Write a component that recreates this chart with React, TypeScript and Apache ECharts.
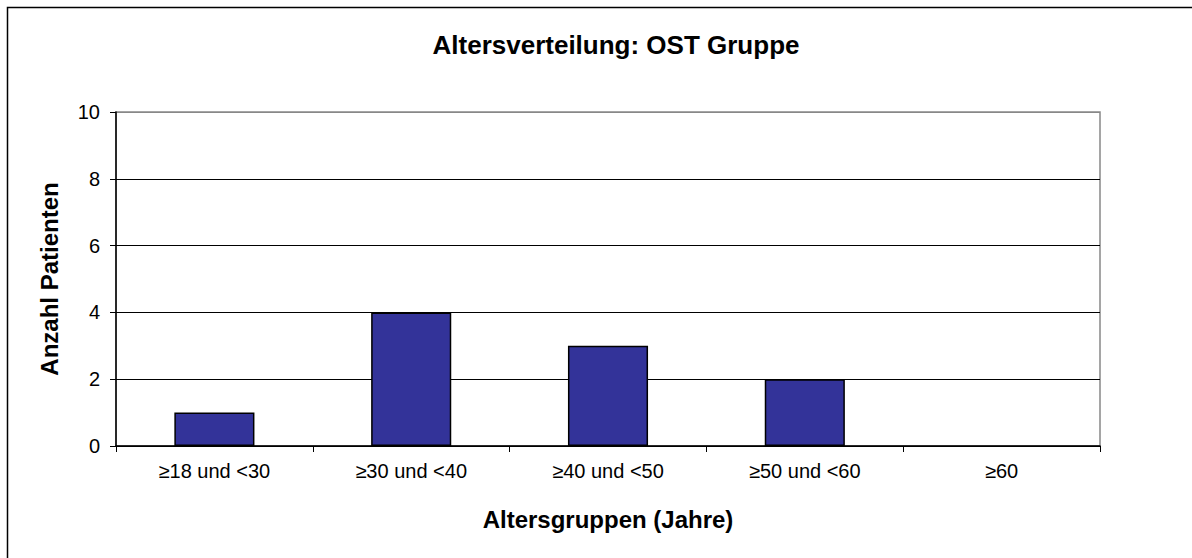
import React, { useEffect, useRef } from "react";
import * as echarts from "echarts";

const titleText = "Altersverteilung: OST Gruppe";
const categories = ["≥18 und <30", "≥30 und <40", "≥40 und <50", "≥50 und <60", "≥60"];
const patients = [1, 4, 3, 2, 0];
const yAxisName = "Anzahl Patienten";
const xAxisName = "Altersgruppen (Jahre)";

export default function App() {
  const ref = useRef<HTMLDivElement>(null);
  useEffect(() => {
    if (!ref.current) return;
    const chart = echarts.init(ref.current, undefined, { renderer: "svg" });
    const font = "Arial, 'Liberation Sans', Helvetica, sans-serif";
    chart.setOption({
      animation: false,
      backgroundColor: "#fff",
      textStyle: { fontFamily: font },
      title: {
        text: titleText,
        left: 611,
        top: 27,
        textAlign: "center",
        textStyle: { fontSize: 26, fontWeight: "bold", color: "#000", fontFamily: font },
      },
      graphic: [
        {
          type: "rect",
          shape: { x: 7.5, y: 7.5, width: 1400, height: 800 },
          style: { fill: "none", stroke: "#000", lineWidth: 1.5 },
          silent: true,
          z: 100,
        },
      ],
      grid: {
        left: 116,
        top: 112,
        right: 92,
        bottom: 112,
        show: true,
        borderColor: "#888",
        borderWidth: 1.5,
        backgroundColor: "transparent",
      },
      xAxis: {
        type: "category",
        data: categories,
        boundaryGap: true,
        name: xAxisName,
        nameLocation: "middle",
        nameGap: 61,
        nameTextStyle: { fontSize: 24, fontWeight: "bold", color: "#000", fontFamily: font },
        axisLine: { show: true, lineStyle: { color: "#000", width: 1.5 } },
        axisTick: { show: true, interval: 0, length: 6, lineStyle: { color: "#000", width: 1 } },
        axisLabel: { interval: 0, margin: 15, fontSize: 20, color: "#000", fontFamily: font },
        splitLine: { show: false },
      },
      yAxis: {
        type: "value",
        min: 0,
        max: 10,
        interval: 2,
        name: yAxisName,
        nameLocation: "middle",
        nameGap: 55,
        nameRotate: 90,
        nameTextStyle: { fontSize: 24, fontWeight: "bold", color: "#000", fontFamily: font },
        axisLine: { show: true, lineStyle: { color: "#000", width: 1.5 } },
        axisTick: { show: true, length: 6, lineStyle: { color: "#000", width: 1 } },
        axisLabel: { margin: 16, fontSize: 20, color: "#000", fontFamily: font },
        splitLine: {
          show: true,
          lineStyle: { color: ["#000", "#000", "#000", "#000", "#000", "#888"], width: 1.2 },
        },
      },
      series: [
        {
          type: "bar",
          data: patients.map((v) => (v === 0 ? { value: v, itemStyle: { borderWidth: 0 } } : v)),
          barWidth: "40.7%",
          itemStyle: { color: "#333399", borderColor: "#000", borderWidth: 1.5 },
        },
      ],
    });
    return () => chart.dispose();
  }, []);
  return (
    <div
      ref={ref}
      style={{ position: "absolute", left: 0, top: 0, width: 1192, height: 558 }}
    />
  );
}
